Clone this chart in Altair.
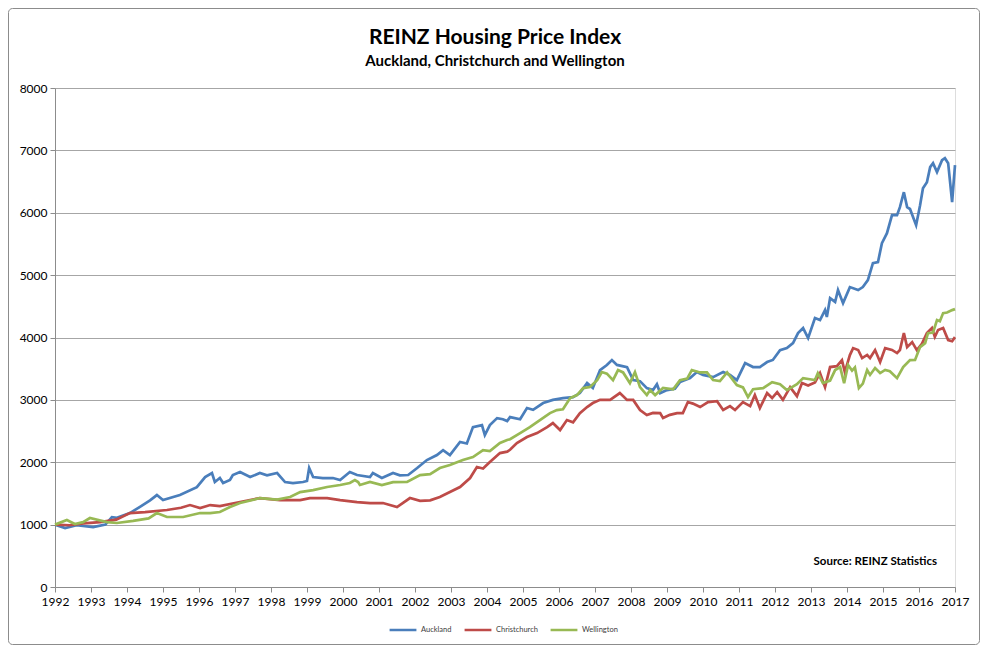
import altair as alt
import pandas as pd

# ---- data (decimal years, index values) ----
akl_year = [1992.00, 1992.28, 1992.60, 1993.06, 1993.40, 1993.58, 1993.72, 1994.08, 1994.36, 1994.64,
            1994.83, 1995.00, 1995.47, 1995.94, 1996.17, 1996.36, 1996.44, 1996.58, 1996.67, 1996.86,
            1996.94, 1997.14, 1997.42, 1997.69, 1997.89, 1998.17, 1998.39, 1998.61, 1998.89, 1999.00,
            1999.06, 1999.17, 1999.44, 1999.72, 1999.92, 2000.19, 2000.39, 2000.75, 2000.83, 2001.08,
            2001.39, 2001.58, 2001.81, 2002.06, 2002.33, 2002.61, 2002.78, 2002.97, 2003.25, 2003.44,
            2003.61, 2003.86, 2003.94, 2004.08, 2004.28, 2004.44, 2004.56, 2004.64, 2004.92, 2005.11,
            2005.28, 2005.56, 2005.83, 2006.11, 2006.39, 2006.58, 2006.78, 2006.94, 2007.14, 2007.33,
            2007.47, 2007.61, 2007.89, 2008.06, 2008.25, 2008.44, 2008.61, 2008.72, 2008.81, 2009.00,
            2009.22, 2009.36, 2009.64, 2009.83, 2010.00, 2010.28, 2010.56, 2010.75, 2010.94, 2011.17,
            2011.39, 2011.58, 2011.78, 2011.94, 2012.14, 2012.33, 2012.50, 2012.64, 2012.78, 2012.92,
            2013.11, 2013.25, 2013.39, 2013.44, 2013.53, 2013.67, 2013.75, 2013.89, 2014.08, 2014.31,
            2014.44, 2014.58, 2014.72, 2014.86, 2014.97, 2015.11, 2015.25, 2015.39, 2015.47, 2015.58,
            2015.67, 2015.75, 2015.92, 2016.03, 2016.11, 2016.22, 2016.31, 2016.39, 2016.50, 2016.64,
            2016.72, 2016.81, 2016.92, 2017.00]
akl_value = [1000, 945, 990, 960, 1000, 1120, 1110, 1185, 1285, 1390,
             1474, 1394, 1474, 1600, 1763, 1827, 1683, 1747, 1667, 1715,
             1795, 1843, 1763, 1827, 1790, 1827, 1683, 1667, 1683, 1700,
             1907, 1763, 1747, 1747, 1715, 1843, 1795, 1763, 1827, 1747,
             1827, 1790, 1795, 1907, 2035, 2115, 2195, 2115, 2324, 2300,
             2564, 2596, 2436, 2596, 2708, 2690, 2660, 2724, 2690, 2869,
             2840, 2949, 3000, 3029, 3045, 3109, 3269, 3189, 3478, 3558,
             3638, 3560, 3526, 3317, 3300, 3189, 3157, 3250, 3109, 3157,
             3180, 3285, 3349, 3446, 3400, 3365, 3446, 3400, 3317, 3590,
             3526, 3526, 3606, 3640, 3798, 3830, 3910, 4070, 4151, 3990,
             4311, 4280, 4439, 4330, 4631, 4570, 4760, 4551, 4808, 4760,
             4808, 4920, 5192, 5208, 5513, 5673, 5962, 5962, 6090, 6330,
             6090, 6060, 5801, 6122, 6394, 6490, 6731, 6795, 6651, 6843,
             6875, 6795, 6170, 6763]

chc_year = [1992.00, 1992.40, 1992.80, 1993.25, 1993.70, 1994.08, 1994.50, 1995.11, 1995.50, 1995.75,
            1996.03, 1996.31, 1996.58, 1997.14, 1997.69, 1998.25, 1998.81, 1999.08, 1999.56, 1999.92,
            2000.39, 2000.75, 2001.11, 2001.50, 2001.86, 2002.14, 2002.42, 2002.69, 2002.97, 2003.25,
            2003.53, 2003.72, 2003.89, 2004.08, 2004.36, 2004.56, 2004.64, 2004.83, 2005.11, 2005.39,
            2005.67, 2005.83, 2006.03, 2006.22, 2006.39, 2006.58, 2006.78, 2006.94, 2007.14, 2007.42,
            2007.69, 2007.89, 2008.06, 2008.25, 2008.44, 2008.61, 2008.81, 2008.89, 2009.08, 2009.28,
            2009.44, 2009.58, 2009.72, 2009.92, 2010.14, 2010.39, 2010.56, 2010.75, 2010.89, 2011.11,
            2011.31, 2011.44, 2011.58, 2011.78, 2011.92, 2012.06, 2012.22, 2012.42, 2012.61, 2012.75,
            2012.92, 2013.11, 2013.25, 2013.39, 2013.53, 2013.72, 2013.86, 2013.94, 2014.08, 2014.17,
            2014.31, 2014.42, 2014.56, 2014.64, 2014.78, 2014.92, 2015.06, 2015.25, 2015.39, 2015.47,
            2015.58, 2015.67, 2015.81, 2015.94, 2016.08, 2016.22, 2016.36, 2016.44, 2016.53, 2016.67,
            2016.81, 2016.92, 2017.00]
chc_value = [1000, 990, 1020, 1040, 1080, 1185, 1200, 1234, 1270, 1314,
             1266, 1314, 1298, 1362, 1426, 1394, 1394, 1426, 1426, 1394,
             1362, 1346, 1346, 1282, 1426, 1380, 1390, 1442, 1522, 1603,
             1747, 1923, 1900, 2003, 2147, 2170, 2200, 2308, 2404, 2468,
             2564, 2628, 2516, 2676, 2640, 2788, 2885, 2949, 3000, 3000,
             3109, 3000, 3000, 2837, 2756, 2790, 2788, 2708, 2760, 2788,
             2788, 2965, 2940, 2885, 2965, 2980, 2837, 2900, 2837, 2965,
             2900, 3077, 2869, 3109, 3030, 3125, 3000, 3205, 3060, 3269,
             3230, 3280, 3429, 3205, 3526, 3540, 3638, 3446, 3718, 3830,
             3800, 3670, 3720, 3670, 3798, 3606, 3830, 3800, 3750, 3800,
             4070, 3846, 3926, 3798, 3900, 4070, 4151, 4010, 4120, 4151,
             3958, 3940, 4006]

wlg_year = [1992.00, 1992.33, 1992.55, 1992.78, 1992.97, 1993.44, 1993.72, 1994.17, 1994.60, 1994.83,
            1995.11, 1995.56, 1996.03, 1996.31, 1996.58, 1996.86, 1997.14, 1997.69, 1998.17, 1998.53,
            1998.81, 1999.17, 1999.56, 1999.92, 2000.19, 2000.33, 2000.42, 2000.47, 2000.75, 2001.08,
            2001.39, 2001.78, 2002.14, 2002.42, 2002.69, 2002.97, 2003.33, 2003.61, 2003.89, 2004.08,
            2004.36, 2004.56, 2004.64, 2004.92, 2005.19, 2005.47, 2005.75, 2005.94, 2006.11, 2006.31,
            2006.50, 2006.67, 2006.86, 2007.06, 2007.19, 2007.33, 2007.50, 2007.64, 2007.78, 2007.97,
            2008.11, 2008.25, 2008.44, 2008.53, 2008.67, 2008.89, 2009.17, 2009.36, 2009.56, 2009.69,
            2009.92, 2010.11, 2010.28, 2010.47, 2010.67, 2010.94, 2011.11, 2011.25, 2011.39, 2011.67,
            2011.92, 2012.14, 2012.33, 2012.61, 2012.78, 2012.97, 2013.11, 2013.19, 2013.33, 2013.53,
            2013.67, 2013.81, 2013.92, 2014.03, 2014.14, 2014.22, 2014.33, 2014.44, 2014.56, 2014.64,
            2014.78, 2014.92, 2015.06, 2015.19, 2015.39, 2015.56, 2015.75, 2015.89, 2016.03, 2016.17,
            2016.25, 2016.39, 2016.50, 2016.58, 2016.67, 2016.78, 2016.92, 2017.00]
wlg_value = [1000, 1074, 1010, 1040, 1106, 1040, 1026, 1060, 1100, 1185,
             1122, 1122, 1186, 1185, 1202, 1282, 1346, 1426, 1400, 1442,
             1522, 1554, 1603, 1635, 1667, 1715, 1683, 1635, 1683, 1635,
             1680, 1683, 1795, 1810, 1907, 1955, 2035, 2083, 2195, 2180,
             2308, 2356, 2370, 2468, 2564, 2676, 2788, 2837, 2850, 3029,
             3077, 3189, 3205, 3317, 3446, 3420, 3317, 3478, 3440, 3269,
             3446, 3205, 3077, 3157, 3077, 3190, 3170, 3317, 3340, 3478,
             3440, 3440, 3317, 3300, 3440, 3237, 3200, 3045, 3170, 3189,
             3285, 3250, 3157, 3250, 3349, 3330, 3317, 3429, 3269, 3310,
             3478, 3526, 3269, 3558, 3470, 3520, 3189, 3260, 3478, 3400,
             3510, 3430, 3480, 3460, 3349, 3526, 3638, 3640, 3846, 3910,
             4070, 4080, 4279, 4260, 4391, 4400, 4439, 4455]

series_names = ["Auckland", "Christchurch", "Wellington"]
series_colors = ["#4A7EBB", "#BE4B48", "#98B954"]
year_ticks = list(range(1992, 2018))
value_ticks = list(range(0, 8001, 1000))
title_text = "REINZ Housing Price Index"
subtitle_text = "Auckland, Christchurch and Wellington"
source_text = "Source: REINZ Statistics"

rows = []
for name, ys, vs in zip(series_names, [akl_year, chc_year, wlg_year], [akl_value, chc_value, wlg_value]):
    for y, v in zip(ys, vs):
        rows.append({"Year": y, "Index": v, "City": name})
df = pd.DataFrame(rows)

FONT = "Lato"

lines = alt.Chart(df).mark_line(strokeWidth=2.7, clip=False).encode(
    x=alt.X("Year:Q",
            scale=alt.Scale(domain=[1992, 2017], nice=False, zero=False),
            axis=alt.Axis(values=year_ticks, format="d", title=None, grid=False,
                          labelFontSize=12, labelColor="#000000", labelPadding=4,
                          tickSize=5, tickColor="#8c8c8c", domainColor="#8c8c8c",
                          labelFont=FONT, labelFlush=False)),
    y=alt.Y("Index:Q",
            scale=alt.Scale(domain=[0, 8000], nice=False),
            axis=alt.Axis(values=value_ticks, format="d", title=None, grid=True,
                          gridColor="#a6a6a6", gridWidth=1, labelFontSize=12,
                          labelColor="#000000", labelPadding=3, tickSize=5,
                          tickColor="#8c8c8c", domainColor="#8c8c8c", labelFont=FONT)),
    color=alt.Color("City:N",
                    scale=alt.Scale(domain=series_names, range=series_colors),
                    legend=alt.Legend(title=None, orient="none", legendX=333, legendY=527,
                                      direction="horizontal", symbolType="stroke",
                                      symbolSize=720, symbolStrokeWidth=2.5,
                                      labelFontSize=7.5, labelFont=FONT, labelColor="#404040",
                                      columnPadding=7, labelOffset=3)),
    order=alt.Order("Year:Q"),
)

texts = pd.DataFrame({"t": [title_text, subtitle_text, source_text]})

title_mark = alt.Chart(texts).transform_filter(alt.datum.t == title_text).mark_text(
    align="center", baseline="alphabetic", fontSize=21, fontWeight="bold", font=FONT,
    color="#000000"
).encode(text="t:N", x=alt.value(440), y=alt.value(-44))

subtitle_mark = alt.Chart(texts).transform_filter(alt.datum.t == subtitle_text).mark_text(
    align="center", baseline="alphabetic", fontSize=15, fontWeight="bold", font=FONT,
    color="#000000"
).encode(text="t:N", x=alt.value(440), y=alt.value(-22))

source = alt.Chart(texts).transform_filter(alt.datum.t == source_text).mark_text(
    align="right", baseline="middle", fontSize=11.5, fontWeight="bold", font=FONT,
    color="#000000"
).encode(text="t:N", x=alt.value(882), y=alt.value(474))

border = alt.Chart(pd.DataFrame({"a": [0]})).mark_rect(
    fill=None, stroke="#8c8c8c", strokeWidth=1, cornerRadius=4, clip=False
).encode(x=alt.value(-46.5), x2=alt.value(924.5), y=alt.value(-79.5), y2=alt.value(556.5))

chart = alt.layer(border, lines, title_mark, subtitle_mark, source).properties(
    width=900, height=499,
    autosize=alt.AutoSizeParams(type="none"),
    padding={"left": 47, "top": 80, "right": 25, "bottom": 58},
).configure_view(stroke=None).configure(background="white")

chart.save("out.html", embed_options={"renderer": "svg", "actions": False})
